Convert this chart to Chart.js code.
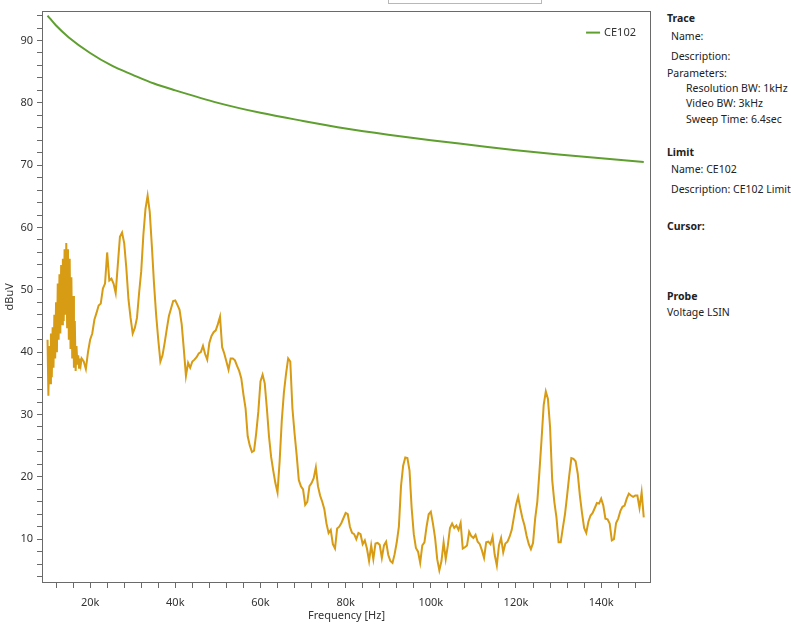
<!DOCTYPE html>
<html>
<head>
<meta charset="utf-8">
<title>CE102 Conducted Emissions</title>
<script src="https://cdn.jsdelivr.net/npm/chart.js@4.4.1/dist/chart.umd.min.js"></script>
<style>
  html, body { margin: 0; padding: 0; background: #fff; }
  body { width: 791px; height: 624px; position: relative; overflow: hidden;
         font-family: "Segoe UI", "Noto Sans", "Open Sans", sans-serif; color: #222; }
  #plot { position: absolute; left: 0; top: 0; width: 660px; height: 624px; }
  #tab { position: absolute; left: 388px; top: -10px; width: 152px; height: 12px;
         border: 1px solid #b8b8b8; background: #fff; }
  .info { position: absolute; font-size: 10.5px; line-height: 12px; white-space: nowrap; }
  .info b { font-weight: 700; }
</style>
</head>
<body>
<div id="plot"><canvas id="chart" width="660" height="624"></canvas></div>
<div id="tab"></div>

<div class="info" style="left:667px;top:12px"><b>Trace</b></div>
<div class="info" style="left:671px;top:30px">Name:</div>
<div class="info" style="left:671px;top:50px">Description:</div>
<div class="info" style="left:667px;top:67px">Parameters:</div>
<div class="info" style="left:686px;top:82px">Resolution BW: 1kHz</div>
<div class="info" style="left:686px;top:97px">Video BW: 3kHz</div>
<div class="info" style="left:686px;top:113px">Sweep Time: 6.4sec</div>
<div class="info" style="left:667px;top:146px"><b>Limit</b></div>
<div class="info" style="left:671px;top:163px">Name: CE102</div>
<div class="info" style="left:671px;top:183px">Description: CE102 Limit</div>
<div class="info" style="left:667px;top:220px"><b>Cursor:</b></div>
<div class="info" style="left:667px;top:290px"><b>Probe</b></div>
<div class="info" style="left:667px;top:306px">Voltage LSIN</div>

<script>
// Measured emission trace: sweep frequencies (kHz) and levels (dBuV)
const traceFreqKHz = [
  10.0, 10.2, 10.4, 10.6, 10.8, 11.0, 11.2, 11.4, 11.6, 11.8,
  12.0, 12.2, 12.4, 12.6, 12.8, 13.0, 13.2, 13.4, 13.6, 13.8,
  14.0, 14.2, 14.4, 14.6, 14.8, 15.0, 15.2, 15.4, 15.6, 15.8,
  16.0, 16.2, 16.4, 16.6, 16.8, 17.0, 17.2, 17.4, 17.6, 17.8,
  18.0, 18.5, 19.0, 19.5, 20.0, 20.5, 21.0, 21.5, 22.0, 22.5,
  23.0, 23.5, 24.0, 24.5, 25.0, 25.5, 26.0, 26.5, 27.0, 27.5,
  28.0, 28.5, 29.0, 29.5, 30.0, 30.5, 31.0, 31.5, 32.0, 32.5,
  33.0, 33.5, 34.0, 34.5, 35.0, 35.5, 36.0, 36.5, 37.0, 37.5,
  38.0, 38.5, 39.0, 39.5, 40.0, 40.5, 41.0, 41.5, 42.0, 42.5,
  43.0, 43.5, 44.0, 44.5, 45.0, 45.5, 46.0, 46.5, 47.0, 47.5,
  48.0, 48.5, 49.0, 49.5, 50.0, 50.5, 51.0, 51.5, 52.0, 52.5,
  53.0, 53.5, 54.0, 54.5, 55.0, 55.5, 56.0, 56.5, 57.0, 57.5,
  58.0, 58.5, 59.0, 59.5, 60.0, 60.5, 61.0, 61.5, 62.0, 62.5,
  63.0, 63.5, 64.0, 64.5, 65.0, 65.5, 66.0, 66.5, 67.0, 67.5,
  68.0, 68.5, 69.0, 69.5, 70.0, 70.5, 71.0, 71.5, 72.0, 72.5,
  73.0, 73.5, 74.0, 74.5, 75.0, 75.5, 76.0, 76.5, 77.0, 77.5,
  78.0, 78.5, 79.0, 79.5, 80.0, 80.5, 81.0, 81.5, 82.0, 82.5,
  83.0, 83.5, 84.0, 84.5, 85.0, 85.5, 86.0, 86.5, 87.0, 87.5,
  88.0, 88.5, 89.0, 89.5, 90.0, 90.5, 91.0, 91.5, 92.0, 92.5,
  93.0, 93.5, 94.0, 94.5, 95.0, 95.5, 96.0, 96.5, 97.0, 97.5,
  98.0, 98.5, 99.0, 99.5, 100.0, 100.5, 101.0, 101.5, 102.0, 102.5,
  103.0, 103.5, 104.0, 104.5, 105.0, 105.5, 106.0, 106.5, 107.0, 107.5,
  108.0, 108.5, 109.0, 109.5, 110.0, 110.5, 111.0, 111.5, 112.0, 112.5,
  113.0, 113.5, 114.0, 114.5, 115.0, 115.5, 116.0, 116.5, 117.0, 117.5,
  118.0, 118.5, 119.0, 119.5, 120.0, 120.5, 121.0, 121.5, 122.0, 122.5,
  123.0, 123.5, 124.0, 124.5, 125.0, 125.5, 126.0, 126.5, 127.0, 127.5,
  128.0, 128.5, 129.0, 129.5, 130.0, 130.5, 131.0, 131.5, 132.0, 132.5,
  133.0, 133.5, 134.0, 134.5, 135.0, 135.5, 136.0, 136.5, 137.0, 137.5,
  138.0, 138.5, 139.0, 139.5, 140.0, 140.5, 141.0, 141.5, 142.0, 142.5,
  143.0, 143.5, 144.0, 144.5, 145.0, 145.5, 146.0, 146.5, 147.0, 147.5,
  148.0, 148.5, 149.0, 149.5, 150.0
];
const traceLevel = [
  42, 33, 41, 35, 43, 36, 44, 37.5, 46, 39,
  48, 40, 51, 42, 52.5, 43, 54, 44.5, 55, 45,
  56.5, 46, 57.5, 44, 56.5, 42, 55, 40.5, 52, 39,
  49, 37.5, 45, 37, 41, 38, 39.5, 37.5, 39, 38,
  39, 38.5, 37.3, 40, 42, 43, 45.2, 46.3, 47.5, 47.8,
  50.2, 51, 56, 51.5, 51.8, 51, 49.5, 54, 58.5, 59.2,
  57.5, 53.5, 48.5, 45.5, 43, 43.9, 45.5, 49.5, 53, 58.8,
  63, 65.1, 62.5, 57, 51, 46, 42, 38.5, 39.5, 41.5,
  43.7, 45.8, 47, 48.2, 48.3, 47.6, 46.8, 44.5, 40.5, 36.2,
  38.3, 37.5, 38.5, 38.8, 39.2, 39.8, 40, 41, 39.7, 38.8,
  41.5, 42.6, 43.2, 43.5, 44.5, 45.7, 40.8, 39.8, 38.5, 37.2,
  39, 39, 38.7, 37.8, 37, 35.8, 33.2, 31, 26.5, 25,
  24, 24.2, 27, 30.5, 35.3, 36.4, 35, 31, 26.5, 23.2,
  21, 19, 17.5, 22.5, 29, 33.5, 36.5, 39, 38.5, 31,
  27, 23.5, 19.5, 18.5, 18, 15.5, 16, 18.5, 19, 19.8,
  21.5, 18.5, 17, 16, 14.8, 12.5, 11, 11.5, 9.2, 8.5,
  11.7, 12, 12.6, 13.4, 14.2, 14, 12, 11, 10.8, 10,
  11, 10.8, 9.2, 9.8, 8.5, 6.5, 9, 6.8, 9.3, 9.4,
  9.1, 7, 9, 9.6, 7.5, 6.5, 6.2, 7.6, 9.5, 12,
  18.5, 21.8, 23.1, 23, 21, 15, 10.8, 8.6, 8, 6.2,
  9, 9.5, 12, 14, 14.4, 12.5, 10.2, 6.8, 5, 6.5,
  9.5, 6.8, 9, 11.8, 12.5, 11.8, 12.2, 11.5, 12.6, 8.5,
  8.7, 9, 11.2, 10.5, 10.2, 10.7, 9.6, 9.2, 8.2, 7,
  9.5, 9.6, 9.2, 10.4, 7.5, 5.8, 9, 10.2, 7.9, 9.3,
  9.6, 10.4, 11.5, 13.5, 15.5, 16.8, 15, 13.4, 12.2, 10.5,
  9.2, 8.4, 9.4, 13.3, 16, 20.8, 26, 31.5, 33.7, 32.5,
  28, 19.5, 16, 13.5, 9.5, 9.5, 11.8, 14, 17, 20.2,
  23, 22.9, 22.5, 20.5, 17, 14.2, 11.8, 11, 12.8, 13.8,
  14.2, 15, 15.8, 15.7, 16.5, 15.4, 13.3, 13.2, 12.5, 9.8,
  10, 12.6, 13.3, 14.5, 15.2, 15.4, 16.5, 17.3, 17, 16.8,
  17, 17, 15, 17.5, 13.5
];

// CE102 limit line: frequencies (kHz) and levels (dBuV)
const limitFreqKHz = [10, 12, 15, 20, 25, 30, 35, 40, 50, 60, 70, 80, 90, 100, 110, 120, 130, 140, 150];
const limitLevel   = [94, 92.4, 90.5, 88, 86, 84.5, 83.1, 82, 80, 78.4, 77.1, 75.9, 74.9, 74, 73.2, 72.4, 71.7, 71.1, 70.5];

// Axis labels
const xLabelValues = [20000, 40000, 60000, 80000, 100000, 120000, 140000];
const xLabelTexts  = ['20k', '40k', '60k', '80k', '100k', '120k', '140k'];
const yLabelValues = [10, 20, 30, 40, 50, 60, 70, 80, 90];
const yLabelTexts  = ['10', '20', '30', '40', '50', '60', '70', '80', '90'];

const toPoints = (fk, lv) => fk.map((f, i) => ({ x: f * 1000, y: lv[i] }));

const FONT = '"Segoe UI", "Noto Sans", "Open Sans", sans-serif';
const INK = '#333333';
const FRAME = '#6a6a6a';

// frame around the plotting area
const frame = {
  id: 'frame',
  afterDraw(chart) {
    const { ctx, chartArea: a } = chart;
    ctx.save();
    ctx.strokeStyle = FRAME;
    ctx.lineWidth = 1;
    ctx.strokeRect(Math.round(a.left) + 0.5, Math.round(a.top) + 0.5,
                   Math.round(a.right - a.left) - 1, Math.round(a.bottom - a.top) - 1);
    ctx.restore();
  }
};

// single-entry legend in the upper right corner of the plotting area
const cornerLegend = {
  id: 'cornerLegend',
  afterDraw(chart) {
    const { ctx, chartArea: a } = chart;
    const ds = chart.data.datasets[1];
    ctx.save();
    ctx.font = '11px ' + FONT;
    ctx.fillStyle = INK;
    ctx.textBaseline = 'middle';
    ctx.textAlign = 'right';
    const xr = a.right - 15, yc = a.top + 22;
    const w = ctx.measureText(ds.label).width;
    ctx.fillText(ds.label, xr, yc);
    ctx.strokeStyle = ds.borderColor;
    ctx.lineWidth = 2;
    ctx.beginPath();
    ctx.moveTo(xr - w - 18, yc);
    ctx.lineTo(xr - w - 4, yc);
    ctx.stroke();
    ctx.restore();
  }
};

const minorTicks = (from, to, step) => {
  const out = [];
  for (let v = from; v <= to + 1e-9; v += step) out.push({ value: v });
  return out;
};

new Chart(document.getElementById('chart'), {
  type: 'line',
  data: {
    datasets: [
      {
        label: 'Trace',
        data: toPoints(traceFreqKHz, traceLevel),
        borderColor: '#d79b14',
        borderWidth: 2,
        pointRadius: 0,
        tension: 0,
        order: 2
      },
      {
        label: 'CE102',
        data: toPoints(limitFreqKHz, limitLevel),
        borderColor: '#5f9f2f',
        backgroundColor: '#5f9f2f',
        borderWidth: 2,
        pointRadius: 0,
        cubicInterpolationMode: 'monotone',
        order: 1
      }
    ]
  },
  options: {
    responsive: false,
    animation: false,
    devicePixelRatio: 1,
    layout: { padding: { top: 8, right: 9, left: 0, bottom: 0 } },
    plugins: {
      tooltip: { enabled: false },
      legend: { display: false }
    },
    scales: {
      x: {
        type: 'linear',
        min: 8700,
        max: 151700,
        border: { display: false },
        grid: { drawOnChartArea: false, drawTicks: true, tickLength: 5, tickColor: FRAME },
        ticks: {
          autoSkip: false,
          maxRotation: 0,
          padding: 8,
          color: INK,
          font: { family: FONT, size: 11 },
          callback: (v) => { const i = xLabelValues.indexOf(v); return i >= 0 ? xLabelTexts[i] : ''; }
        },
        afterBuildTicks: (s) => { s.ticks = minorTicks(12000, 148000, 4000); },
        afterFit: (s) => { s.height = 41; },
        title: { display: true, text: 'Frequency [Hz]', color: INK, font: { family: FONT, size: 11 }, padding: { top: 0, bottom: 2 } }
      },
      y: {
        type: 'linear',
        min: 2.97,
        max: 94.8,
        border: { display: false },
        grid: { drawOnChartArea: false, drawTicks: true, tickLength: 5, tickColor: FRAME },
        ticks: {
          autoSkip: false,
          padding: 4,
          color: INK,
          font: { family: FONT, size: 11 },
          callback: (v) => { const i = yLabelValues.indexOf(v); return i >= 0 ? yLabelTexts[i] : ''; }
        },
        afterBuildTicks: (s) => { s.ticks = minorTicks(4, 94, 2); },
        afterFit: (s) => { s.width = 42; },
        title: { display: true, text: 'dBuV', color: INK, font: { family: FONT, size: 11 }, padding: { top: 3, bottom: 0 } }
      }
    }
  },
  plugins: [frame, cornerLegend]
});
</script>
</body>
</html>
